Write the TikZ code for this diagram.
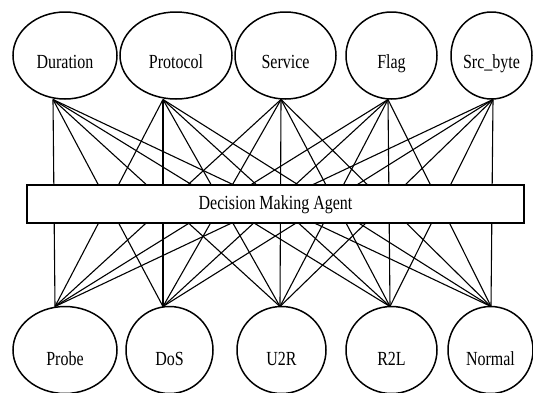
\documentclass[tikz,border=0pt]{standalone}
\usepackage{fontspec}
\setmainfont[FakeStretch=0.8]{Liberation Serif}
\usetikzlibrary{shapes.geometric}
\begin{document}
\begin{tikzpicture}[x=1pt,y=-1pt,
  oval/.style={draw,ellipse,line width=1.5pt,inner sep=0pt,minimum height=87pt},
  lbl/.style={anchor=base,inner sep=0pt,font=\fontsize{20pt}{22pt}\selectfont},
  conn/.style={line width=1.1pt},
  agent/.style={draw,fill=white,line width=1.5pt,minimum width=497pt,minimum height=38pt,inner sep=0pt}]
\useasboundingbox (0,0) rectangle (533,392);
% top nodes
\node[oval,minimum width=104pt] (dur) at (65,55.5) {};
\node[oval,minimum width=112pt] (pro) at (176,55.5) {};
\node[oval,minimum width=101pt] (ser) at (285.5,55.5) {};
\node[oval,minimum width=91pt] (fla) at (391.5,55.5) {};
\node[oval,minimum width=81pt] (src) at (491.5,55.5) {};
\node[lbl] (ldur) at (65,68) {Duration};
\node[lbl] (lpro) at (176,68) {Protocol};
\node[lbl] (lser) at (285.5,68) {Service};
\node[lbl] (lfla) at (391.5,68) {Flag};
\node[lbl] (lsrc) at (491.5,68) {Src\_byte};
% bottom nodes
\node[oval,minimum width=104pt] (prb) at (65,350) {};
\node[oval,minimum width=87pt] (dos) at (169.5,350) {};
\node[oval,minimum width=89pt] (u2r) at (281.5,350) {};
\node[oval,minimum width=91pt] (r2l) at (391.5,350) {};
\node[oval,minimum width=85pt] (nor) at (490.5,350) {};
\node[lbl] (lprb) at (65,365) {Probe};
\node[lbl] (ldos) at (169.5,365) {DoS};
\node[lbl] (lu2r) at (281.5,365) {U2R};
\node[lbl] (lr2l) at (391.5,365) {R2L};
\node[lbl] (lnor) at (490.5,365) {Normal};
% attach points
\coordinate (t1) at (53,99.5);
\coordinate (t2) at (163,99.5);
\coordinate (t3) at (281,99.5);
\coordinate (t4) at (388,99.5);
\coordinate (t5) at (493,99.5);
\coordinate (b1) at (55,306.5);
\coordinate (b2) at (163,306.5);
\coordinate (b3) at (280,306.5);
\coordinate (b4) at (390,306.5);
\coordinate (b5) at (491,306.5);
\foreach \t in {t1,t2,t3,t4,t5}{
  \foreach \b in {b1,b2,b3,b4,b5}{
    \draw[conn] (\t) -- (\b);
  }
}
\node[agent] (dma) at (275.5,204) {};
\node[lbl] (ldma) at (275.5,209) {Decision Making Agent};
\end{tikzpicture}
\end{document}
